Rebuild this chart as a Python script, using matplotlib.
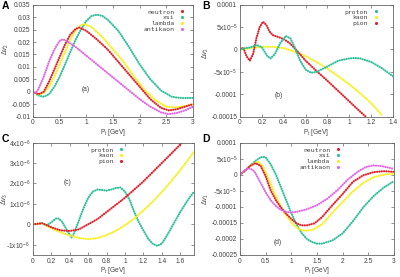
import matplotlib
matplotlib.use("Agg")
import matplotlib.pyplot as plt
from matplotlib.lines import Line2D

plt.rcParams["font.family"] = ["Liberation Sans", "DejaVu Sans"]
plt.rcParams["mathtext.fontset"] = "custom"
plt.rcParams["mathtext.rm"] = "Liberation Sans"
plt.rcParams["mathtext.it"] = "Liberation Sans:italic"
plt.rcParams["mathtext.bf"] = "Liberation Sans:bold"

# ---------------- data ----------------
# Panel A (delta v2, neutron / xsi / lambda / antikaon)
a_neutron_x = [0, 0.1, 0.2, 0.3, 0.4, 0.5, 0.6, 0.7, 0.8, 0.87, 1.0, 1.2, 1.4, 1.6, 1.8, 2.0, 2.2, 2.4, 2.55, 2.7, 2.85, 3.0]
a_neutron_y = [0, -0.001, 0.0, 0.004, 0.009, 0.014, 0.019, 0.023, 0.0253, 0.0258, 0.0245, 0.021, 0.017, 0.012, 0.007, 0.002, -0.003, -0.0065, -0.0075, -0.007, -0.006, -0.005]
a_xsi_x = [0, 0.1, 0.2, 0.3, 0.4, 0.5, 0.6, 0.7, 0.8, 0.9, 1.0, 1.1, 1.2, 1.3, 1.4, 1.6, 1.8, 2.0, 2.2, 2.4, 2.6, 2.75, 3.0]
a_xsi_y = [0, -0.0015, -0.002, -0.001, 0.002, 0.006, 0.011, 0.016, 0.021, 0.025, 0.0285, 0.0305, 0.031, 0.0305, 0.029, 0.0245, 0.018, 0.011, 0.005, 0.0005, -0.002, -0.0025, -0.0025]
a_lambda_x = [0, 0.1, 0.2, 0.3, 0.4, 0.5, 0.6, 0.7, 0.8, 0.9, 0.97, 1.1, 1.3, 1.5, 1.7, 1.9, 2.1, 2.3, 2.5, 2.65, 2.8, 3.0]
a_lambda_y = [0, -0.0012, -0.0005, 0.002, 0.006, 0.011, 0.016, 0.021, 0.0248, 0.0268, 0.0272, 0.026, 0.022, 0.017, 0.012, 0.006, 0.0005, -0.0035, -0.006, -0.0063, -0.006, -0.005]
a_antikaon_x = [0, 0.05, 0.1, 0.2, 0.3, 0.4, 0.5, 0.55, 0.6, 0.8, 1.0, 1.2, 1.4, 1.6, 1.8, 2.0, 2.2, 2.4, 2.55, 2.7, 2.85, 3.0]
a_antikaon_y = [0, -0.0005, 0.001, 0.006, 0.012, 0.017, 0.0205, 0.021, 0.0208, 0.018, 0.0145, 0.011, 0.0075, 0.004, 0.0005, -0.003, -0.006, -0.0083, -0.009, -0.0085, -0.0075, -0.006]

# Panel B (delta v2, proton / kaon / pion)
b_proton_x = [0, 0.05, 0.1, 0.15, 0.2, 0.25, 0.28, 0.32, 0.37, 0.42, 0.46, 0.5, 0.55, 0.6, 0.65, 0.7, 0.8, 0.9, 1.0, 1.05, 1.1, 1.2, 1.3, 1.4]
b_proton_y = [0, 0.3e-5, 0.5e-5, 1e-5, 0.5e-5, -1.5e-5, -2e-5, -1e-5, 1.5e-5, 3e-5, 2.5e-5, 0.5e-5, -2.5e-5, -4.5e-5, -5.2e-5, -5e-5, -3.8e-5, -2.5e-5, -2e-5, -1.9e-5, -2e-5, -2.8e-5, -4.2e-5, -6e-5]
b_kaon_x = [0, 0.1, 0.2, 0.3, 0.4, 0.5, 0.6, 0.7, 0.8, 0.9, 1.0, 1.1, 1.2, 1.3]
b_kaon_y = [0, 0.3e-5, 0.6e-5, 0.6e-5, 0.3e-5, -0.5e-5, -1.5e-5, -2.8e-5, -4.3e-5, -6e-5, -7.8e-5, -9.8e-5, -1.2e-4, -1.47e-4]
b_pion_x = [0, 0.03, 0.06, 0.09, 0.12, 0.15, 0.18, 0.21, 0.24, 0.27, 0.3, 0.35, 0.4, 0.45, 0.5, 0.6, 0.7, 0.8, 0.9, 1.0, 1.1, 1.15]
b_pion_y = [0, 0.4e-5, -1.5e-5, -2.5e-5, -1e-5, 2.5e-5, 5e-5, 6.2e-5, 5.5e-5, 4e-5, 3.2e-5, 2.8e-5, 2.3e-5, 1.5e-5, 0.3e-5, -2.5e-5, -4.8e-5, -7e-5, -9.3e-5, -1.16e-4, -1.39e-4, -1.5e-4]

# Panel C (delta v3, proton / kaon / pion)
c_proton_x = [0, 0.1, 0.15, 0.2, 0.25, 0.28, 0.32, 0.37, 0.42, 0.45, 0.5, 0.55, 0.6, 0.65, 0.7, 0.75, 0.8, 0.85, 0.9, 0.95, 1.0, 1.05, 1.1, 1.15, 1.2, 1.25, 1.3, 1.35, 1.4, 1.45, 1.5, 1.55, 1.6, 1.65, 1.7, 1.75]
c_proton_y = [0, 0.05e-6, -0.05e-6, 0.1e-6, 0.28e-6, 0.28e-6, 0.1e-6, -0.3e-6, -0.65e-6, -0.4e-6, 0.2e-6, 0.8e-6, 1.3e-6, 1.6e-6, 1.7e-6, 1.68e-6, 1.65e-6, 1.7e-6, 1.78e-6, 1.8e-6, 1.6e-6, 1.2e-6, 0.6e-6, 0.1e-6, -0.3e-6, -0.7e-6, -0.95e-6, -1.06e-6, -0.95e-6, -0.6e-6, -0.2e-6, 0.2e-6, 0.6e-6, 0.95e-6, 1.3e-6, 1.6e-6]
c_kaon_x = [0, 0.1, 0.2, 0.3, 0.4, 0.5, 0.6, 0.7, 0.8, 0.9, 1.0, 1.1, 1.2, 1.3, 1.4, 1.5, 1.6, 1.75]
c_kaon_y = [0, 0.05e-6, -0.2e-6, -0.4e-6, -0.55e-6, -0.67e-6, -0.73e-6, -0.68e-6, -0.53e-6, -0.32e-6, -0.05e-6, 0.28e-6, 0.68e-6, 1.1e-6, 1.58e-6, 2.1e-6, 2.65e-6, 3.55e-6]
c_pion_x = [0, 0.05, 0.1, 0.2, 0.3, 0.4, 0.5, 0.6, 0.7, 0.8, 0.9, 1.0, 1.1, 1.2, 1.3, 1.4, 1.5, 1.62]
c_pion_y = [0, 0.02e-6, 0.05e-6, -0.15e-6, -0.3e-6, -0.33e-6, -0.25e-6, 0, 0.25e-6, 0.6e-6, 0.95e-6, 1.3e-6, 1.7e-6, 2.1e-6, 2.55e-6, 3.0e-6, 3.45e-6, 4.0e-6]

# Panel D (delta v1, neutron / xsi / lambda / antikaon)
d_neutron_x = [0, 0.1, 0.2, 0.3, 0.4, 0.5, 0.6, 0.7, 0.8, 0.9, 1.0, 1.1, 1.2, 1.3, 1.45, 1.6, 1.8, 2.0, 2.2, 2.4, 2.6, 2.8, 3.0]
d_neutron_y = [0, 1.3e-5, 2.8e-5, 3.6e-5, 2.8e-5, -5e-6, -5e-5, -8e-5, -1.03e-4, -1.22e-4, -1.38e-4, -1.52e-4, -1.58e-4, -1.58e-4, -1.52e-4, -1.32e-4, -9.5e-5, -6e-5, -2.2e-5, -2e-6, 8e-6, 1.1e-5, 9e-6]
d_xsi_x = [0, 0.1, 0.2, 0.3, 0.4, 0.45, 0.5, 0.6, 0.7, 0.8, 0.9, 1.0, 1.1, 1.2, 1.3, 1.4, 1.5, 1.6, 1.8, 2.0, 2.2, 2.4, 2.6, 2.8, 3.0]
d_xsi_y = [0, 1.2e-5, 2.8e-5, 4.3e-5, 5.4e-5, 5.6e-5, 5.4e-5, 3.2e-5, 0, -4e-5, -8e-5, -1.2e-4, -1.55e-4, -1.82e-4, -2.0e-4, -2.1e-4, -2.15e-4, -2.15e-4, -2.05e-4, -1.83e-4, -1.45e-4, -1.02e-4, -6.7e-5, -4e-5, -2e-5]
d_lambda_x = [0, 0.1, 0.2, 0.3, 0.36, 0.45, 0.55, 0.65, 0.75, 0.85, 0.95, 1.05, 1.15, 1.25, 1.4, 1.6, 1.8, 2.0, 2.2, 2.4, 2.6, 2.8, 3.0]
d_lambda_y = [0, 1.3e-5, 2.8e-5, 3.8e-5, 4e-5, 2.5e-5, -1e-5, -5e-5, -8.5e-5, -1.15e-4, -1.38e-4, -1.58e-4, -1.7e-4, -1.75e-4, -1.73e-4, -1.55e-4, -1.18e-4, -8.5e-5, -5.2e-5, -2.6e-5, -8e-6, 0, 4e-6]
d_antikaon_x = [0, 0.1, 0.17, 0.25, 0.3, 0.4, 0.5, 0.6, 0.7, 0.8, 0.9, 1.0, 1.1, 1.3, 1.5, 1.7, 1.9, 2.1, 2.3, 2.45, 2.6, 2.75, 2.9, 3.0]
d_antikaon_y = [0, 1.5e-5, 2e-5, 1.5e-5, 5e-6, -2.5e-5, -5.5e-5, -8e-5, -9.8e-5, -1.1e-4, -1.16e-4, -1.18e-4, -1.16e-4, -1.08e-4, -9.5e-5, -7.5e-5, -4.8e-5, -1.5e-5, 1e-5, 2.4e-5, 2.9e-5, 2.7e-5, 2.2e-5, 1.8e-5]

# tick labels
a_xticks = [0, 0.5, 1, 1.5, 2, 2.5, 3]
a_xticklabels = ["0", "0.5", "1", "1.5", "2", "2.5", "3"]
a_yticks = [0.035, 0.03, 0.025, 0.02, 0.015, 0.01, 0.005, 0, -0.005, -0.01]
a_yticklabels = ["0.035", "0.03", "0.025", "0.02", "0.015", "0.01", "0.005", "0", "-0.005", "-0.01"]
b_xticks = [0, 0.2, 0.4, 0.6, 0.8, 1.0, 1.2, 1.4]
b_xticklabels = ["0", "0.2", "0.4", "0.6", "0.8", "1", "1.2", "1.4"]
b_yticks = [1e-4, 5e-5, 0, -5e-5, -1e-4, -1.5e-4]
b_yticklabels = ["0.0001", r"5x10$^{-5}$", "0", r"-5x10$^{-5}$", "-0.0001", "-0.00015"]
c_xticks = [0, 0.2, 0.4, 0.6, 0.8, 1.0, 1.2, 1.4, 1.6]
c_xticklabels = ["0", "0.2", "0.4", "0.6", "0.8", "1", "1.2", "1.4", "1.6"]
c_yticks = [4e-6, 3e-6, 2e-6, 1e-6, 0, -1e-6]
c_yticklabels = [r"4x10$^{-6}$", r"3x10$^{-6}$", r"2x10$^{-6}$", r"1x10$^{-6}$", "0", r"-1x10$^{-6}$"]
d_xticks = [0, 0.5, 1, 1.5, 2, 2.5, 3]
d_xticklabels = ["0", "0.5", "1", "1.5", "2", "2.5", "3"]
d_yticks = [1e-4, 5e-5, 0, -5e-5, -1e-4, -1.5e-4, -2e-4, -2.5e-4]
d_yticklabels = ["0.0001", r"5x10$^{-5}$", "0", r"-5x10$^{-5}$", "-0.0001", "-0.00015", "-0.0002", "-0.00025"]

# ---------------- style ----------------
RED = "#e0202a"
TEAL = "#2fbf9a"
YELLOW = "#f7f01a"
MAGENTA = "#e066e6"
GRAY = "#444444"
FS = 4.8

fig = plt.figure(figsize=(4.0, 2.77), dpi=100)


def make_ax(rect):
    ax = fig.add_axes(rect)
    for s in ax.spines.values():
        s.set_color("#666666")
        s.set_linewidth(0.6)
    ax.tick_params(direction="in", top=True, right=True, length=2.2, width=0.5,
                   labelsize=FS, colors="#666666", labelcolor=GRAY, pad=2)
    return ax


def curve(ax, x, y, color):
    ax.plot(x, y, color=color, lw=1.6, linestyle=(0, (0.05, 1.0)),
            dash_capstyle="round", solid_capstyle="round")


def legend(ax, labels, colors, loc_xy):
    handles = [Line2D([], [], color=c, marker=".", ls="none", markersize=2.5) for c in colors]
    leg = ax.legend(handles, labels, loc="upper right", bbox_to_anchor=loc_xy,
                    frameon=False, markerfirst=False, handlelength=1.2,
                    handletextpad=0.6, labelspacing=0.05, borderpad=0.2,
                    prop={"family": "DejaVu Sans Mono", "size": 4.6})
    for t in leg.get_texts():
        t.set_color(GRAY)
        t.set_ha("right")


def finish(ax, xlim, ylim, xt, xtl, yt, ytl, ylabel, label_xy, note, note_xy):
    ax.set_xlim(*xlim)
    ax.set_ylim(*ylim)
    ax.set_xticks(xt)
    ax.set_xticklabels(xtl)
    ax.set_yticks(yt)
    ax.set_yticklabels(ytl)
    ax.set_xlabel(r"P$_t$ [GeV]", fontsize=FS, color=GRAY, labelpad=0.4)
    ax.set_ylabel(ylabel, fontsize=FS, color=GRAY)
    ax.yaxis.set_label_coords(*label_xy)
    ax.text(note_xy[0], note_xy[1], note, fontsize=FS, color=GRAY)


# Panel A
axA = make_ax([0.0825, 0.579, 0.40, 0.404])
curve(axA, a_xsi_x, a_xsi_y, TEAL)
curve(axA, a_lambda_x, a_lambda_y, YELLOW)
curve(axA, a_neutron_x, a_neutron_y, RED)
curve(axA, a_antikaon_x, a_antikaon_y, MAGENTA)
finish(axA, (0, 3), (-0.01, 0.035), a_xticks, a_xticklabels, a_yticks, a_yticklabels,
       r"$\Delta v_2$", (-0.14, 0.6), "(a)", (0.92, 0.0003))
legend(axA, ["neutron", "xsi", "lambda", "antikaon"], [RED, TEAL, YELLOW, MAGENTA], (0.985, 1.0))

# Panel B
axB = make_ax([0.6, 0.579, 0.3825, 0.404])
curve(axB, b_kaon_x, b_kaon_y, YELLOW)
curve(axB, b_pion_x, b_pion_y, RED)
curve(axB, b_proton_x, b_proton_y, TEAL)
finish(axB, (0, 1.4), (-1.5e-4, 1e-4), b_xticks, b_xticklabels, b_yticks, b_yticklabels,
       r"$\Delta v_2$", (-0.19, 0.57), "(b)", (0.32, -1.07e-4))
legend(axB, ["proton", "kaon", "pion"], [TEAL, YELLOW, RED], (0.94, 1.0))

# Panel C
axC = make_ax([0.0825, 0.08, 0.4025, 0.405])
curve(axC, c_proton_x, c_proton_y, TEAL)
curve(axC, c_kaon_x, c_kaon_y, YELLOW)
curve(axC, c_pion_x, c_pion_y, RED)
finish(axC, (0, 1.75), (-1.5e-6, 4e-6), c_xticks, c_xticklabels, c_yticks, c_yticklabels,
       r"$\Delta v_3$", (-0.14, 0.5), "(c)", (0.33, 1.95e-6))
legend(axC, ["proton", "kaon", "pion"], [TEAL, YELLOW, RED], (0.6, 1.0))

# Panel D
axD = make_ax([0.6, 0.08, 0.385, 0.405])
curve(axD, d_xsi_x, d_xsi_y, TEAL)
curve(axD, d_lambda_x, d_lambda_y, YELLOW)
curve(axD, d_neutron_x, d_neutron_y, RED)
curve(axD, d_antikaon_x, d_antikaon_y, MAGENTA)
finish(axD, (0, 3), (-2.5e-4, 1e-4), d_xticks, d_xticklabels, d_yticks, d_yticklabels,
       r"$\Delta v_1$", (-0.19, 0.5), "(d)", (0.66, -2.17e-4))
legend(axD, ["neutron", "xsi", "lambda", "antikaon"], [RED, TEAL, YELLOW, MAGENTA], (0.69, 1.0))

# panel letters
for lab, (px, py) in {"A": (2, 1), "B": (202, 1), "C": (2, 134), "D": (202, 134)}.items():
    fig.text(px / 400, 1 - py / 277, lab, fontsize=7.5, fontweight="bold", va="top", ha="left")

fig.savefig("out.png", dpi=100)
